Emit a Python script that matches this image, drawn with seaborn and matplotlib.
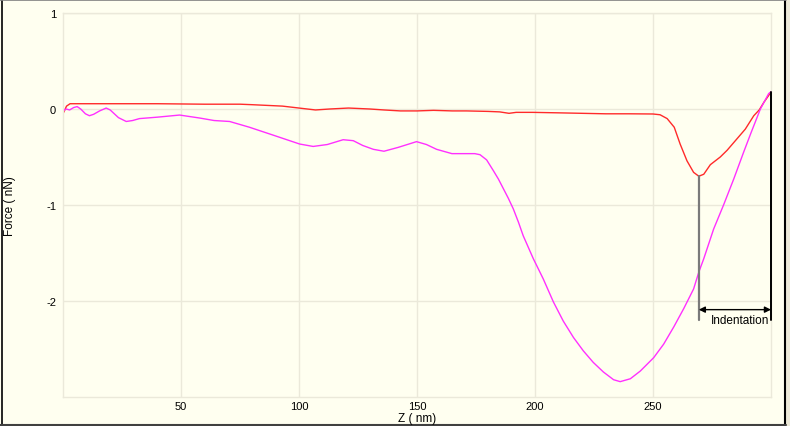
import matplotlib
matplotlib.use("Agg")
import matplotlib.pyplot as plt
from matplotlib.patches import Rectangle
from matplotlib.lines import Line2D
import seaborn as sns
import pandas as pd

# ---- data ----
z_retract = [0, 1.5, 3, 20, 40, 60, 75, 80, 93, 100, 107, 113, 121, 130, 136, 143,
             150, 157, 165, 171, 180, 185, 189, 192, 199, 210, 220, 230, 240, 250,
             253, 256, 259, 261.5, 264.4, 267.2, 269.4, 271.5, 274.3, 278.5, 281.4,
             285.6, 289.1, 292.7, 295, 297, 299, 300]
f_retract = [-0.05, 0.03, 0.055, 0.055, 0.055, 0.05, 0.05, 0.045, 0.03, 0.01, -0.01,
             0.0, 0.01, 0.0, -0.01, -0.02, -0.02, -0.014, -0.02, -0.02, -0.025, -0.03,
             -0.045, -0.035, -0.035, -0.04, -0.045, -0.05, -0.05, -0.052, -0.06, -0.10,
             -0.19, -0.365, -0.54, -0.66, -0.70, -0.68, -0.58, -0.50, -0.43, -0.31,
             -0.21, -0.07, -0.01, 0.07, 0.14, 0.18]

z_approach = [0, 1.35, 2.8, 4.5, 6.0, 7.5, 9.5, 11.2, 13, 15.5, 18.3, 20, 23.5, 26.8,
              29.5, 32.4, 40, 49.4, 57.9, 64, 70.6, 79, 90, 100.3, 106, 112, 118.7, 123,
              127, 131.5, 136, 142, 149.8, 154, 158.3, 164.8, 170, 174.5, 176.7, 179.5,
              182.3, 184.5, 186.6, 188.7, 190.8, 193, 195, 199.3, 203.5, 207.8, 212,
              216.3, 220.5, 224.7, 229, 233.3, 236.1, 240.4, 244.6, 250.3, 254.5, 258.8,
              263, 267.2, 269.4, 271.5, 275.7, 279.9, 284.2, 288.4, 291.5, 295.5, 299, 300]
f_approach = [-0.02, 0.0, -0.01, 0.015, 0.025, 0.0, -0.05, -0.07, -0.055, -0.02, 0.01,
              -0.01, -0.09, -0.13, -0.12, -0.10, -0.085, -0.063, -0.094, -0.12, -0.13,
              -0.19, -0.28, -0.365, -0.39, -0.37, -0.32, -0.33, -0.38, -0.42, -0.44,
              -0.40, -0.34, -0.37, -0.42, -0.465, -0.465, -0.465, -0.476, -0.53, -0.64,
              -0.73, -0.83, -0.93, -1.04, -1.18, -1.32, -1.56, -1.77, -2.01, -2.21,
              -2.38, -2.52, -2.64, -2.74, -2.82, -2.84, -2.81, -2.73, -2.59, -2.45,
              -2.27, -2.08, -1.875, -1.70, -1.56, -1.25, -1.0, -0.73, -0.45, -0.25,
              0.0, 0.16, 0.18]

x_ticks = [50, 100, 150, 200, 250]
y_ticks = [1, 0, -1, -2]
contact_z, contact_f = 269.4, -0.70
end_z, end_f = 300, 0.18
indent_label = "Indentation"

df = pd.concat([
    pd.DataFrame({"Z": z_retract, "F": f_retract, "curve": "retract"}),
    pd.DataFrame({"Z": z_approach, "F": f_approach, "curve": "approach"}),
], ignore_index=True)

# ---- style ----
sns.set_theme(style="whitegrid")
plt.rcParams["font.family"] = ["Liberation Sans", "DejaVu Sans"]

GRID = "#ebe9da"
IVORY = "#fffff0"
fig = plt.figure(figsize=(7.9, 4.27), dpi=100, facecolor="#ece9d8")
W, H = 790, 427
# window panel
fig.patches.append(Rectangle((0, 0), 786 / W, 1, transform=fig.transFigure,
                             facecolor=IVORY, edgecolor="none", zorder=-10))
fig.lines.append(Line2D([1.5 / W, 1.5 / W], [0, 1], transform=fig.transFigure, color="black", lw=1.2, zorder=-5))
fig.lines.append(Line2D([785 / W, 785 / W], [0, 1], transform=fig.transFigure, color="black", lw=1.5, zorder=-5))
fig.lines.append(Line2D([0, 786 / W], [1 - 425.5 / H, 1 - 425.5 / H], transform=fig.transFigure, color="#404040", lw=1.5, zorder=-5))
fig.lines.append(Line2D([0, 786 / W], [1 - 0.8 / H, 1 - 0.8 / H], transform=fig.transFigure, color="#808080", lw=1.2, zorder=-5))

ax = fig.add_axes([63 / W, 1 - 398 / H, (771 - 63) / W, (398 - 14) / H])
ax.set_zorder(1)
ax.set_facecolor(IVORY)

sns.lineplot(data=df, x="Z", y="F", hue="curve", palette={"retract": "#ff2a2a", "approach": "#ff30ff"},
             estimator=None, sort=False, legend=False, lw=1.0, ax=ax)

ax.set_xlim(0, 300)
ax.set_ylim(-3, 1)
ax.set_xticks(x_ticks)
ax.set_xticklabels([str(t) for t in x_ticks])
ax.set_yticks(y_ticks)
ax.set_yticklabels([str(t) for t in y_ticks])
ax.grid(True, color=GRID, lw=1.0)
ax.tick_params(axis="both", length=0, labelsize=8, colors="black")
ax.tick_params(axis="x", pad=3)
ax.tick_params(axis="y", pad=5)
for s in ax.spines.values():
    s.set_color(GRID)
    s.set_linewidth(1.0)

ax.set_xlabel("Z ( nm)", fontsize=8.5, color="black")
ax.set_ylabel("Force ( nN)", fontsize=8.5, color="black")
ax.xaxis.set_label_coords(0.5, -(419 - 398) / 384)
ax.xaxis.label.set_va("center")
ax.yaxis.set_label_coords((10 - 63) / 708, 0.5)
ax.yaxis.label.set_va("center")

# indentation annotation
bottom = -2.2
ax.plot([contact_z, contact_z], [contact_f, bottom], color="#7a7a7a", lw=1.6, clip_on=False, zorder=4)
ax.plot([end_z, end_z], [end_f, bottom], color="black", lw=1.4, clip_on=False, zorder=4)
ax.annotate("", xy=(contact_z, -2.09), xytext=(end_z, -2.09),
            arrowprops=dict(arrowstyle="<|-|>", color="black", lw=1.0,
                            shrinkA=0, shrinkB=0, mutation_scale=9), zorder=5)
ax.text((contact_z + end_z) / 2 + 2.3, -2.195, indent_label, ha="center", va="center",
        fontsize=8.5, color="black", zorder=5)

fig.savefig("out.png", dpi=100, facecolor=fig.get_facecolor())
